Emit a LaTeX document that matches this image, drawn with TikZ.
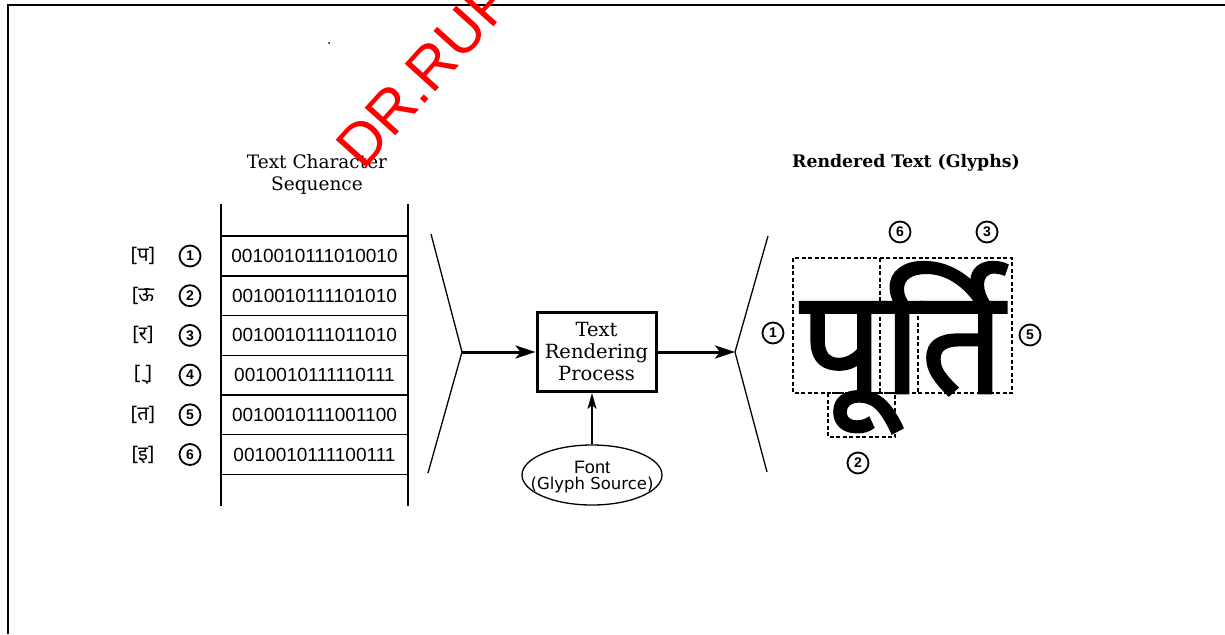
\documentclass[tikz,border=0pt]{standalone}
\usepackage{fontspec}
\setmainfont{DejaVu Serif}
\setsansfont{Liberation Sans}
\newfontfamily\widesans{DejaVu Sans}
\newfontfamily\devfont[Script=Devanagari]{Noto Sans}
\newfontfamily\devbig[Script=Devanagari,FakeBold=1.8]{Noto Sans}
\usetikzlibrary{arrows.meta, shapes.geometric}

\begin{document}
\begin{tikzpicture}[x=1pt,y=-1pt,>={Stealth[length=20pt,width=13pt,inset=5pt]},
  cell/.style={draw, line width=1.5pt, minimum width=187pt, minimum height=39.7pt, inner sep=0pt,
    font=\sffamily\fontsize{19}{19}\selectfont},
  num/.style={circle, draw, line width=1.8pt, minimum size=21pt, inner sep=0pt,
    font=\sffamily\bfseries\fontsize{14}{14}\selectfont},
  dev/.style={font=\devfont\fontsize{20}{20}\selectfont},
  glyphbox/.style={line width=1.6pt, dash pattern=on 4pt off 2.5pt},
  heavy/.style={line width=3pt}]
  \useasboundingbox (0,0) rectangle (1225,634);
  % page frame
  \draw[line width=2pt] (8,634) -- (8,5) -- (1225,5);
  \fill (329,43) circle (1pt);

  % titles
  \node[align=center, font=\fontsize{18.5}{22}\selectfont] (seqtitle) at (317,174) {Text Character\\Sequence};
  \node[font=\bfseries\fontsize{17.3}{17}\selectfont] (glyphtitle) at (906,163) {Rendered Text (Glyphs)};

  % character sequence ladder
  \draw[line width=1.5pt] (221,204) -- (221,506);
  \draw[line width=1.5pt] (408,204) -- (408,506);
  \foreach \bits [count=\i] in {0010010111010010,0010010111101010,0010010111011010,
      0010010111110111,0010010111001100,0010010111100111}
    \node[cell] (c\i) at (314.5,{256+39.7*(\i-1)}) {\bits};
  \foreach \ch [count=\i] in {{[प]},{[ऊ},{[र]},{[\symbol{"00A0}्]},{[त]},{[इ]}} {
    \node[dev] (d\i) at (143,{256+39.7*(\i-1)}) {\ch};
    \node[num] (n\i) at (190,{256+39.7*(\i-1)}) {\i};
  }

  % rendering process
  \coordinate (lf) at (462,352);
  \coordinate (rf) at (735,352);
  \draw[line width=1.3pt] (431,234) -- (lf) -- (428,473);
  \draw[line width=1.3pt] (768,236) -- (rf) -- (767,472);
  \node[draw, heavy, minimum width=119pt, minimum height=79pt, align=center,
    font=\fontsize{19.5}{22}\selectfont] (proc) at (596.5,352) {Text\\Rendering\\Process};
  \node[ellipse, draw, line width=1.3pt, minimum width=140pt, minimum height=60pt] (font) at (592,475) {};
  \node[align=center, inner sep=0pt] (fonttext) at ([yshift=-2pt]font.center)
    {\sffamily\fontsize{18}{18}\selectfont Font\\[2pt]\widesans\fontsize{16.5}{16}\selectfont (Glyph Source)};
  \draw[->, heavy] (lf) -- (proc.west);
  \draw[->, heavy] (proc.east) -- (rf);
  \draw[-{Stealth[length=16pt,width=9pt,inset=4pt]}, line width=2pt] (font.north) -- (font.north |- proc.south);

  % rendered glyphs
  \node[font=\devbig\fontsize{146}{146}\selectfont, anchor=base west, inner sep=0pt] (word) at (800,393) {पूर्ति};
  \draw[glyphbox] (793,258) rectangle (1012,393);
  \draw[glyphbox] (880,258) -- (880,393);
  \draw[glyphbox] (918,303) -- (918,393);
  \draw[glyphbox] (828,393) rectangle (895,437);
  \node[num] (g6) at (900,232) {6};
  \node[num] (g3) at (987,232) {3};
  \node[num] (g1) at (773,333) {1};
  \node[num] (g5) at (1030,335) {5};
  \node[num] (g2) at (858,463) {2};

  % watermark
  \node[text=red, font=\sffamily\fontsize{60}{60}\selectfont, rotate=48, anchor=base west,
    inner sep=0pt] (mark) at (363,172) {DR.RUP};
\end{tikzpicture}
\end{document}
